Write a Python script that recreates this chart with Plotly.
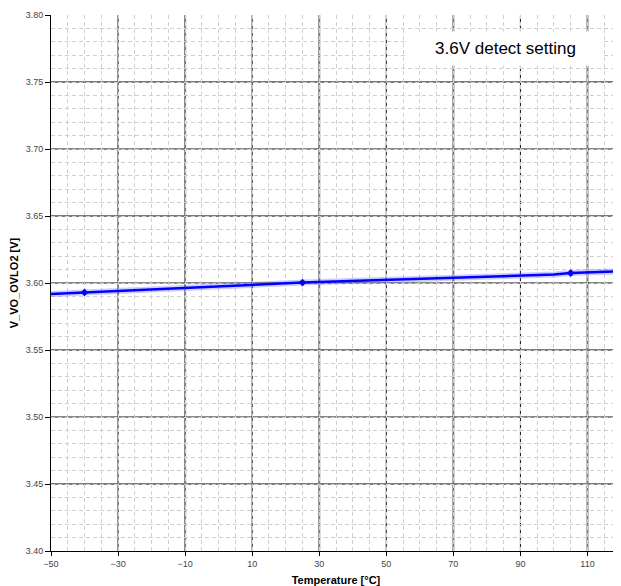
import plotly.graph_objects as go

# measured curve (line) and the marked measurement points
temp_line = [-50, -40, 25, 100, 105, 120]
v_line = [3.5918, 3.5930, 3.6003, 3.6063, 3.6074, 3.6087]
temp_pts = [-40, 25, 105]
v_pts = [3.5930, 3.6003, 3.6074]

x_ticks = [-50, -30, -10, 10, 30, 50, 70, 90, 110]
y_ticks = [3.40, 3.45, 3.50, 3.55, 3.60, 3.65, 3.70, 3.75, 3.80]
x_dark = [-30, 10, 50, 90]
x_gray = [-10, 30, 70, 110]
y_dark = [3.50, 3.60, 3.70]
y_gray = [3.45, 3.55, 3.65, 3.75]

fig = go.Figure()

# soft halo under the line
fig.add_trace(go.Scatter(
    x=temp_line, y=v_line, mode='lines',
    line=dict(color='rgba(90,90,255,0.3)', width=6),
    hoverinfo='skip', showlegend=False
))
fig.add_trace(go.Scatter(
    x=temp_line, y=v_line, mode='lines',
    line=dict(color='#0000ff', width=2.5),
    showlegend=False
))
fig.add_trace(go.Scatter(
    x=temp_pts, y=v_pts, mode='markers',
    marker=dict(color='#0000ff', size=6, symbol='diamond'),
    showlegend=False
))

# major grid lines, alternating dark / gray
shapes = []
for xs, col, w in ((x_gray, '#7a7a7a', 2), (x_dark, '#111111', 1)):
    for xv in xs:
        shapes.append(dict(type='line', xref='x', yref='paper', x0=xv, x1=xv, y0=0, y1=1,
                           line=dict(color=col, width=w), layer='below'))
for ys, col, w in ((y_gray, '#7a7a7a', 2), (y_dark, '#111111', 1)):
    for yv in ys:
        shapes.append(dict(type='line', xref='paper', yref='y', x0=0, x1=1, y0=yv, y1=yv,
                           line=dict(color=col, width=w), layer='below'))

# the page body adds an 8px offset, margins compensate for it
fig.update_layout(
    width=621, height=586,
    margin=dict(l=43, r=8, t=7, b=43),
    plot_bgcolor='white',
    paper_bgcolor='white',
    font=dict(family='Liberation Sans, Arial, sans-serif', color='#222'),
    shapes=shapes,
    xaxis=dict(
        range=[-50, 120], tickvals=x_ticks, automargin=False,
        showgrid=False,
        minor=dict(dtick=5, tick0=-50, showgrid=True, gridcolor='#cfcfcf',
                   griddash='4px,3px', gridwidth=1),
        showline=True, linecolor='black', linewidth=1,
        ticks='outside', ticklen=4, tickcolor='black',
        tickfont=dict(size=9, color='#444'),
        zeroline=False,
        title=dict(text='<b>Temperature [°C]</b>', font=dict(size=11, color='black'), standoff=8),
    ),
    yaxis=dict(
        range=[3.40, 3.80], tickvals=y_ticks, tickformat='.2f', automargin=False,
        showgrid=False,
        minor=dict(dtick=0.01, tick0=3.40, showgrid=True, gridcolor='#cfcfcf',
                   griddash='4px,3px', gridwidth=1),
        showline=True, linecolor='black', linewidth=1,
        ticks='outside', ticklen=5, tickcolor='black',
        tickfont=dict(size=9, color='#444'),
        zeroline=False,
        title=dict(text='<b>V_VO_OVLO2 [V]</b>', font=dict(size=11, color='black'), standoff=4),
    ),
    annotations=[dict(
        text='3.6V detect setting', xref='paper', yref='paper',
        x=0.797, y=0.9375, xanchor='center', yanchor='middle', showarrow=False,
        font=dict(size=17, color='black'),
        width=179, height=17,
        bgcolor='white', borderpad=8
    )],
)

fig.write_html("out.html")
